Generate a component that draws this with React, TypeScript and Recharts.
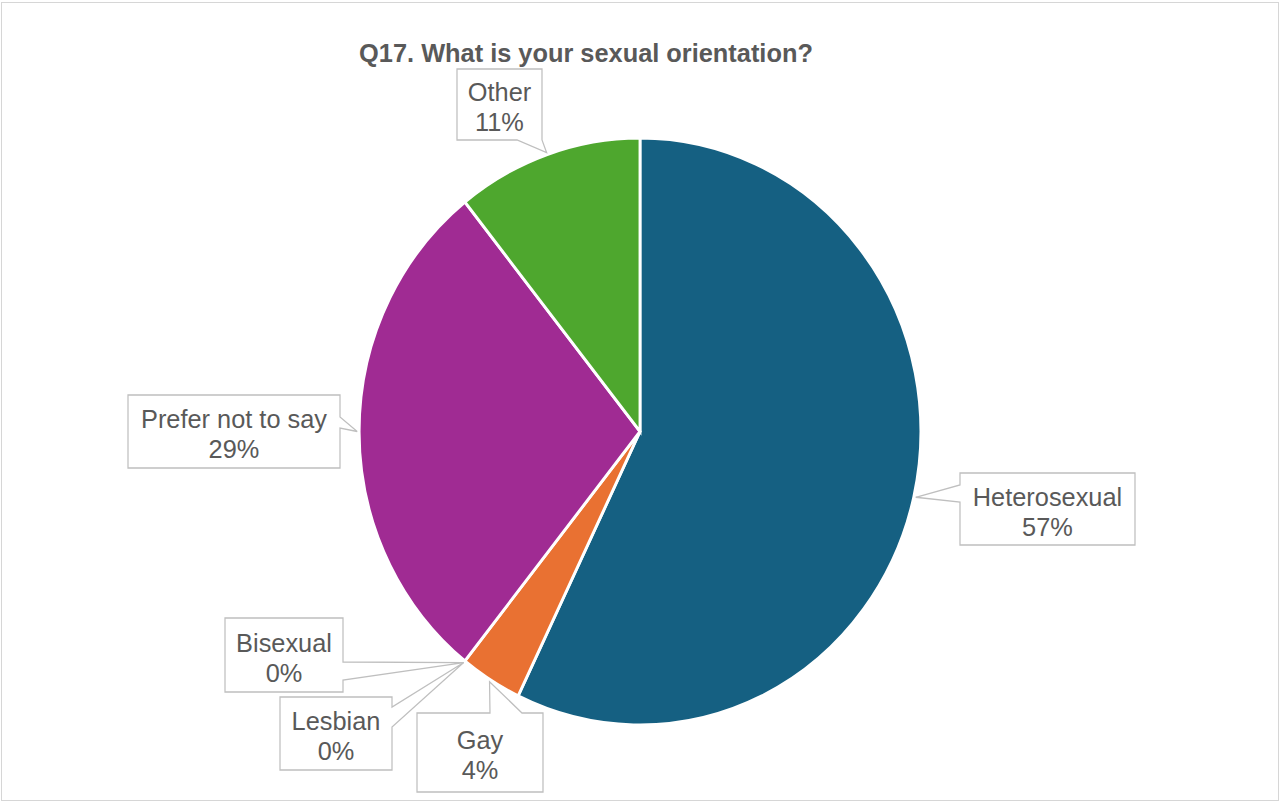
import React from 'react';
import { PieChart, Pie, Cell } from 'recharts';

// Data (counts give 57 / 4 / 0 / 0 / 29 / 11 %)
const categories = ['Heterosexual', 'Gay', 'Lesbian', 'Bisexual', 'Prefer not to say', 'Other'];
const counts = [16, 1, 0, 0, 8, 3];
const sliceColors = ['#156082', '#E97132', '#196B24', '#0F9ED5', '#A02B93', '#4EA72E'];

const chartTitle = 'Q17. What is your sexual orientation?';

// the source picture is squeezed horizontally, so the chart is drawn wider and scaled
const SX = 0.957;
const W = 1282;
const H = 805;
const PIE_CX = 640;
const PIE_CY = 431.5;
const PIE_R = 293.5;

const textColor = '#595959';
const fontFamily = '"Liberation Sans", Arial, sans-serif';

type Side = 'left' | 'right' | 'top' | 'bottom';
interface CalloutBox {
  x: number;
  y: number;
  w: number;
  h: number;
  side: Side;
  base: [number, number];
}

// callout boxes, screen pixels
const calloutBoxes: Record<string, CalloutBox> = {
  Heterosexual: { x: 960, y: 473, w: 175, h: 72, side: 'left', base: [485, 502] },
  Gay: { x: 417, y: 713, w: 126, h: 79, side: 'top', base: [490, 522] },
  Lesbian: { x: 280, y: 697, w: 112, h: 73, side: 'right', base: [707, 727] },
  Bisexual: { x: 225, y: 618, w: 118, h: 74, side: 'right', base: [662, 680] },
  'Prefer not to say': { x: 128, y: 395, w: 212, h: 73, side: 'right', base: [417, 428] },
  Other: { x: 457, y: 69, w: 85, h: 71, side: 'bottom', base: [517, 542] },
};

const total = counts.reduce((a, b) => a + b, 0);
const pieData = categories.map((name, i) => ({ name, value: counts[i] }));

const renderCallout = (props: any) => {
  const { cx, cy, midAngle, outerRadius, index } = props;
  const name = categories[index];
  const box = calloutBoxes[name];
  if (!box) return null;
  const rad = Math.PI / 180;
  const tx = cx + (outerRadius + 2) * Math.cos(-midAngle * rad);
  const ty = cy + (outerRadius + 2) * Math.sin(-midAngle * rad);

  const x = box.x / SX;
  const w = box.w / SX;
  const y = box.y;
  const h = box.h;
  const horiz = box.side === 'top' || box.side === 'bottom';
  const b1 = horiz ? box.base[0] / SX : box.base[0];
  const b2 = horiz ? box.base[1] / SX : box.base[1];

  const pts: number[][] = [[x, y]];
  if (box.side === 'top') pts.push([b1, y], [tx, ty], [b2, y]);
  pts.push([x + w, y]);
  if (box.side === 'right') pts.push([x + w, b1], [tx, ty], [x + w, b2]);
  pts.push([x + w, y + h]);
  if (box.side === 'bottom') pts.push([b2, y + h], [tx, ty], [b1, y + h]);
  pts.push([x, y + h]);
  if (box.side === 'left') pts.push([x, b2], [tx, ty], [x, b1]);
  const d = 'M' + pts.map((p) => p.join(',')).join('L') + 'Z';

  const pct = Math.round((counts[index] / total) * 100) + '%';
  const midX = x + w / 2;
  const midY = y + h / 2;

  return (
    <g key={`callout-${index}`}>
      <path d={d} fill="#ffffff" stroke="#BFBFBF" strokeWidth={1.3} />
      <text x={midX} y={midY - 3} textAnchor="middle" fill={textColor} fontSize={26.5} fontFamily={fontFamily}>
        {name}
      </text>
      <text x={midX} y={midY + 27} textAnchor="middle" fill={textColor} fontSize={26.5} fontFamily={fontFamily}>
        {pct}
      </text>
    </g>
  );
};

export default function App() {
  const innerW = W / SX;
  return (
    <div style={{ position: 'absolute', left: 0, top: 0, width: W, height: H, overflow: 'hidden', background: '#fff' }}>
      <div
        style={{
          position: 'absolute',
          left: 1,
          top: 2,
          width: 1278,
          height: 799,
          border: '1px solid #D6D6D6',
          boxSizing: 'border-box',
        }}
      />
      <div
        style={{
          position: 'absolute',
          left: 0,
          top: 0,
          width: innerW,
          height: H,
          transform: `scaleX(${SX})`,
          transformOrigin: '0 0',
        }}
      >
        <div
          style={{
            position: 'absolute',
            left: 0,
            top: 38,
            width: (2 * 586) / SX,
            textAlign: 'center',
            fontFamily,
            fontWeight: 'bold',
            fontSize: 26.5,
            lineHeight: '30px',
            color: textColor,
            whiteSpace: 'nowrap',
          }}
        >
          {chartTitle}
        </div>
        <div style={{ position: 'absolute', left: 0, top: 0 }}>
          <PieChart width={innerW} height={H} margin={{ top: 0, right: 0, bottom: 0, left: 0 }}>
            <Pie
              data={pieData}
              dataKey="value"
              nameKey="name"
              cx={PIE_CX / SX}
              cy={PIE_CY}
              outerRadius={PIE_R}
              startAngle={90}
              endAngle={-270}
              stroke="#ffffff"
              strokeWidth={3}
              labelLine={false}
              label={renderCallout}
              isAnimationActive={false}
            >
              {pieData.map((d, i) => (
                <Cell key={d.name} fill={sliceColors[i]} />
              ))}
            </Pie>
          </PieChart>
        </div>
      </div>
    </div>
  );
}
